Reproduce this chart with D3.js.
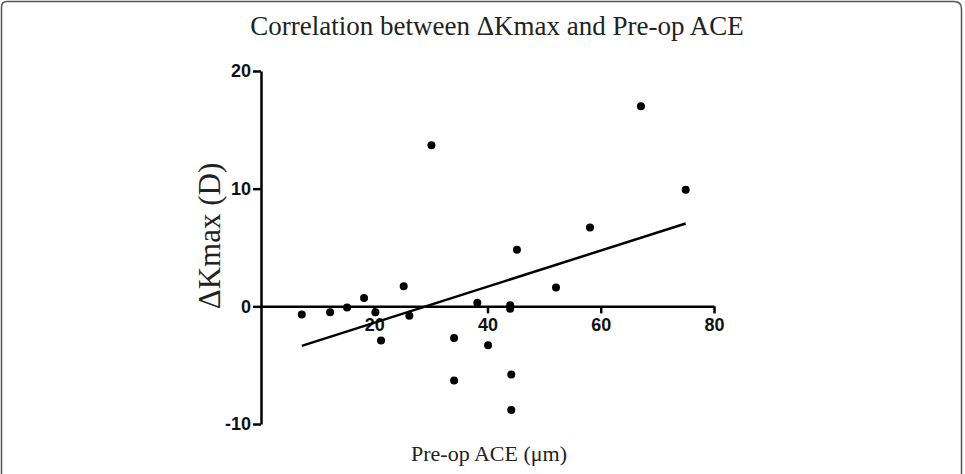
<!DOCTYPE html>
<html>
<head>
<meta charset="utf-8">
<script src="https://cdn.jsdelivr.net/npm/d3@7"></script>
<style>
  body { margin: 0; background: #fff; }
</style>
</head>
<body>
<script>
// Pre-op ACE (um) and change in Kmax (D)
var aceValues = [7.2, 12.2, 15.2, 18.2, 20.2, 21.2, 25.2, 26.2, 30.1, 34.1, 34.1, 38.2, 40.1, 44.0, 44.0, 44.2, 44.2, 45.2, 52.1, 58.1, 67.1, 75.0];
var kmaxValues = [-0.7, -0.5, -0.1, 0.7, -0.5, -2.9, 1.7, -0.8, 13.7, -2.7, -6.3, 0.3, -3.3, 0.1, -0.2, -5.8, -8.8, 4.8, 1.6, 6.7, 17.0, 9.9];
var xTicks = [20, 40, 60, 80];
var yTicks = [-10, 0, 10, 20];

window.onload = function(){
    var width = 965, height = 474;

    var svg = d3.select("body")
                .append("svg")
                .attr("width", width)
                .attr("height", height);

    // frame round the figure (open at the bottom)
    svg.append("path")
        .attr("d", "M1.5,480 L1.5,7 Q1.5,1.5 7,1.5 L954,1.5 Q961.5,1.5 961.5,9 L961.5,480")
        .attr("fill", "none")
        .attr("stroke", "#555")
        .attr("stroke-width", 1.5);

    var x = d3.scaleLinear().domain([0, 80]).range([261, 714]);
    var y = d3.scaleLinear().domain([-10, 20]).range([424, 71]);

    var points = aceValues.map(function(d, i) { return {x: d, y: kmaxValues[i]}; });

    // least squares fit
    var mx = d3.mean(aceValues), my = d3.mean(kmaxValues);
    var sxy = d3.sum(points, function(p) { return (p.x - mx) * (p.y - my); });
    var sxx = d3.sum(points, function(p) { return (p.x - mx) * (p.x - mx); });
    var slope = sxy / sxx, intercept = my - slope * mx;
    var fitX = d3.extent(aceValues);

    var plain = function(d) { return String(d); };

    // y axis
    var yAxis = svg.append("g")
                .attr("transform", "translate(" + x(0) + ",0)")
                .call(d3.axisLeft(y).tickValues(yTicks).tickFormat(plain).tickSize(8).tickPadding(2).tickSizeOuter(0));

    // x axis sits at y = 0
    var xAxis = svg.append("g")
                .attr("transform", "translate(0," + y(0) + ")")
                .call(d3.axisBottom(x).tickValues(xTicks).tickFormat(plain).tickSize(7).tickPadding(5).tickSizeOuter(0));

    [yAxis, xAxis].forEach(function(g) {
        g.select(".domain").attr("stroke", "#000").attr("stroke-width", 2.5);
        g.selectAll(".tick line").attr("stroke", "#000").attr("stroke-width", 2.5);
        g.selectAll(".tick text")
            .attr("fill", "#111")
            .attr("font-family", "Liberation Sans, Arial, sans-serif")
            .attr("font-weight", "bold")
            .attr("font-size", "18px");
    });

    svg.append("line")
        .attr("x1", x(fitX[0]))
        .attr("y1", y(intercept + slope * fitX[0]))
        .attr("x2", x(fitX[1]))
        .attr("y2", y(intercept + slope * fitX[1]))
        .attr("stroke", "#000")
        .attr("stroke-width", 2.5);

    svg.selectAll("circle")
        .data(points)
        .enter()
        .append("circle")
        .attr("cx", function(d) { return x(d.x); })
        .attr("cy", function(d) { return y(d.y); })
        .attr("r", 4)
        .attr("fill", "#000");

    svg.append("text")
        .attr("x", 497)
        .attr("y", 35)
        .attr("text-anchor", "middle")
        .attr("font-family", "Liberation Serif, Times New Roman, serif")
        .attr("font-size", "27px")
        .attr("fill", "#222")
        .text("Correlation between \u0394Kmax and Pre-op ACE");

    svg.append("text")
        .attr("x", 489)
        .attr("y", 461)
        .attr("text-anchor", "middle")
        .attr("font-family", "Liberation Serif, Times New Roman, serif")
        .attr("font-size", "22px")
        .attr("fill", "#222")
        .text("Pre-op ACE (\u03bcm)");

    svg.append("text")
        .attr("transform", "translate(220,236) rotate(-90)")
        .attr("text-anchor", "middle")
        .attr("font-family", "Liberation Serif, Times New Roman, serif")
        .attr("font-size", "31px")
        .attr("fill", "#222")
        .text("\u0394Kmax (D)");
}
</script>
</body>
</html>
